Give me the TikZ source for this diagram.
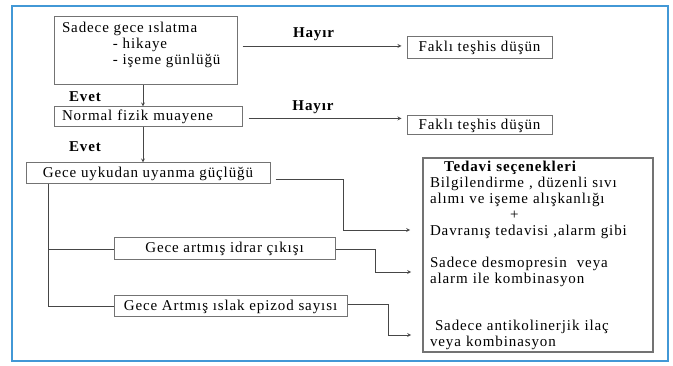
\documentclass[tikz,border=0pt]{standalone}
\usepackage{fontspec}
\setmainfont{Liberation Serif}[LetterSpace=6]
\usetikzlibrary{
		calc,
		positioning,
		arrows.meta
	}
\definecolor{boxgray}{RGB}{115,115,115}
\definecolor{linegray}{RGB}{70,70,70}
\definecolor{frameblue}{RGB}{66,152,214}
\tikzset{
		>=stealth,
		box/.style={draw=boxgray, line width=1pt, inner xsep=8pt, inner ysep=0pt},
		lab/.style={font=\bfseries, inner sep=1pt},
		link/.style={draw=linegray, line width=0.8pt}
	}
\begin{document}
\fontsize{15}{16}\selectfont
\begin{tikzpicture}[x=1pt, y=-1pt]
		\useasboundingbox (0,0) rectangle (673,366);
		% Frame
		\draw[frameblue, line width=1.5pt] (12,6) rectangle (668,361);
		% Left column
		\node[box, inner xsep=0pt, minimum width=183pt, minimum height=68pt] (wet) at (145.5,51) {\parbox[c][58pt][t]{167pt}{Sadece gece ıslatma\\\hspace*{51pt}- hikaye\\\hspace*{51pt}- işeme günlüğü}};
		\node[box, text width=172pt, align=left, minimum height=20pt] (exam) at (148,117) {Normal fizik muayene};
		\node[box, minimum width=244pt, minimum height=21pt] (wake) at (148,173.5) {Gece uykudan uyanma güçlüğü};
		\node[box, minimum width=221pt, minimum height=22pt] (urine) at (224.5,249) {Gece artmış idrar çıkışı};
		\node[box, minimum width=233pt, minimum height=21pt] (episode) at (230.5,306.5) {Gece Artmış ıslak epizod sayısı};
		% Right column
		\node[box, minimum width=145pt, minimum height=22pt] (diff1) at (479.5,48) {Faklı teşhis düşün};
		\node[box, minimum width=145pt, minimum height=19pt] (diff2) at (479.5,125.5) {Faklı teşhis düşün};
		\node[box, line width=1.6pt, inner xsep=7pt, text width=216pt, align=left, minimum height=194pt] (treat) at (538,255) {%
			\hspace*{14pt}\textbf{Tedavi seçenekleri}\\
			Bilgilendirme , düzenli sıvı\\
			alımı ve işeme alışkanlığı\\
			\hspace*{80pt}+\\
			Davranış tedavisi ,alarm gibi\\[16pt]
			Sadece desmopresin\ \ veya\\
			alarm ile kombinasyon\\[31pt]
			\ Sadece antikolinerjik ilaç\\
			veya kombinasyon};
		% Labels
		\node[lab] (yes1) at (85,97) {Evet};
		\node[lab] (yes2) at (85,147) {Evet};
		% Arrows
		\coordinate (spine) at ([xshift=-2.5pt]wet.south);
		\coordinate (in1) at ([yshift=2pt]diff1.west);
		\coordinate (in2) at ([yshift=7pt]diff2.west);
		\draw[link, ->] (spine) -- (spine |- exam.north);
		\draw[link, ->] (spine |- exam.south) -- (spine |- wake.north);
		\draw[link, ->, shorten <=5pt, shorten >=5pt] (wet.east |- in1) -- node[lab, above=4pt, pos=.45] (no1) {Hayır} (in1);
		\draw[link, ->, shorten <=6pt, shorten >=5pt] (exam.east |- in2) -- node[lab, above=3pt, pos=.43] (no2) {Hayır} (in2);
		\draw[link, ->, shorten >=12pt] ([shift={(5,5.5)}]wake.east) -- ++(68,0) |- ([yshift=25pt]treat.west);
		\draw[link, ->, shorten >=11pt] (urine.east) -- ++(40,0) |- ([yshift=-17pt]treat.west);
		\draw[link, ->, shorten >=11pt] ([yshift=2.5pt]episode.east) -- ++(41,0) |- ([yshift=-80pt]treat.west);
		% Branches
		\coordinate (trunk) at ([xshift=23pt]wake.south west);
		\draw[link] (trunk) |- (episode.west);
		\draw[link] (trunk |- urine.west) -- (urine.west);
	\end{tikzpicture}
\end{document}
